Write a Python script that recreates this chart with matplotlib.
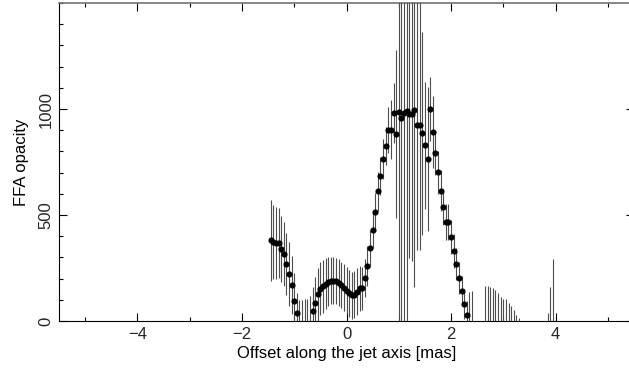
import matplotlib.pyplot as plt
from matplotlib.ticker import MultipleLocator

# offsets along the jet axis [mas]
offset = [-1.45, -1.40, -1.35, -1.30, -1.25, -1.20, -1.15, -1.10, -1.05, -1.00,
          -0.95, -0.90, -0.85, -0.80, -0.75, -0.70, -0.65, -0.60, -0.55, -0.50,
          -0.45, -0.40, -0.35, -0.30, -0.25, -0.20, -0.15, -0.10, -0.05, 0.00,
          0.05, 0.10, 0.15, 0.20, 0.25, 0.30, 0.35, 0.40, 0.45, 0.50,
          0.55, 0.60, 0.65, 0.70, 0.75, 0.80, 0.85, 0.90, 0.95, 1.00,
          1.05, 1.10, 1.15, 1.20, 1.25, 1.30, 1.35, 1.40, 1.45, 1.50,
          1.55, 1.60, 1.65, 1.70, 1.75, 1.80, 1.85, 1.90, 1.95, 2.00,
          2.05, 2.10, 2.15, 2.20, 2.25, 2.30, 2.35, 2.40,
          2.65, 2.70, 2.75, 2.80, 2.85, 2.90, 2.95, 3.00, 3.05, 3.10,
          3.15, 3.20, 3.25, 3.30,
          3.85, 3.90, 3.95]

opacity = [381, 374, 369, 368, 340, 316, 269, 223, 170, 96,
           39, -40, -50, -50, -45, -40, 47, 86, 127, 151,
           165, 176, 185, 190, 190, 189, 181, 170, 157, 143,
           131, 121, 124, 138, 154, 154, 201, 261, 344, 429,
           516, 612, 684, 763, 827, 901, 902, 981, 882, 986,
           956, 981, 992, 978, 975, 995, 923, 923, 885, 829,
           766, 1000, 893, 791, 701, 615, 539, 467, 467, 398,
           332, 267, 204, 142, 79, 27, -40, -40,
           -40, -40, -40, -40, -40, -40, -40, -40, -40, -40,
           -40, -40, -40, -40,
           -40, -40, -40]

opacity_err = [191, 175, 170, 165, 155, 150, 146, 150, 137, 130,
               95, 140, 150, 155, 150, 160, 113, 120, 125, 125,
               125, 120, 115, 110, 110, 110, 110, 110, 110, 110,
               110, 110, 110, 110, 105, 100, 90, 95, 87, 83,
               88, 92, 90, 95, 90, 110, 140, 140, 396, 1050,
               1100, 1050, 1000, 680, 690, 835, 590, 590, 480, 300,
               340, 150, 170, 100, 100, 95, 85, 85, 85, 80,
               80, 75, 75, 70, 70, 65, 175, 180,
               205, 205, 200, 197, 186, 171, 152, 142, 142, 123,
               111, 92, 68, 53,
               79, 199, 331]

plt.rcParams['font.family'] = ['Liberation Sans', 'DejaVu Sans']

fig = plt.figure(figsize=(6.29, 3.73), dpi=100)
# right edge of the frame runs just past the picture border, as in the original
ax = fig.add_axes([59 / 629, 52 / 373, 575 / 629, 318 / 373])

ax.errorbar(offset, opacity, yerr=opacity_err, fmt='o', ms=3.4, color='black',
            ecolor='0.3', elinewidth=0.8, capsize=0, zorder=3)

ax.set_xlim(-5.5, 5.5)
ax.set_ylim(0, 1500)
ax.set_xticks([-4, -2, 0, 2, 4])
ax.xaxis.set_minor_locator(MultipleLocator(1))
ax.set_yticks([0, 500, 1000])
ax.yaxis.set_minor_locator(MultipleLocator(100))

ax.tick_params(which='both', direction='in', top=True, right=True, width=0.8,
               labelsize=12, labelcolor='0.15', pad=4)
ax.tick_params(which='major', length=5.8)
ax.tick_params(which='minor', length=3.2)
ax.tick_params(axis='y', labelrotation=90)
for lab in ax.get_yticklabels():
    lab.set_va('center')

for side in ['left', 'bottom', 'right']:
    ax.spines[side].set_linewidth(0.8)
ax.spines['top'].set_color('0.45')
ax.spines['top'].set_linewidth(1.2)

ax.set_xlabel('Offset along the jet axis [mas]', fontsize=12, labelpad=3)
ax.set_ylabel('FFA opacity', fontsize=12, labelpad=7)

plt.savefig('out.png', dpi=100)
